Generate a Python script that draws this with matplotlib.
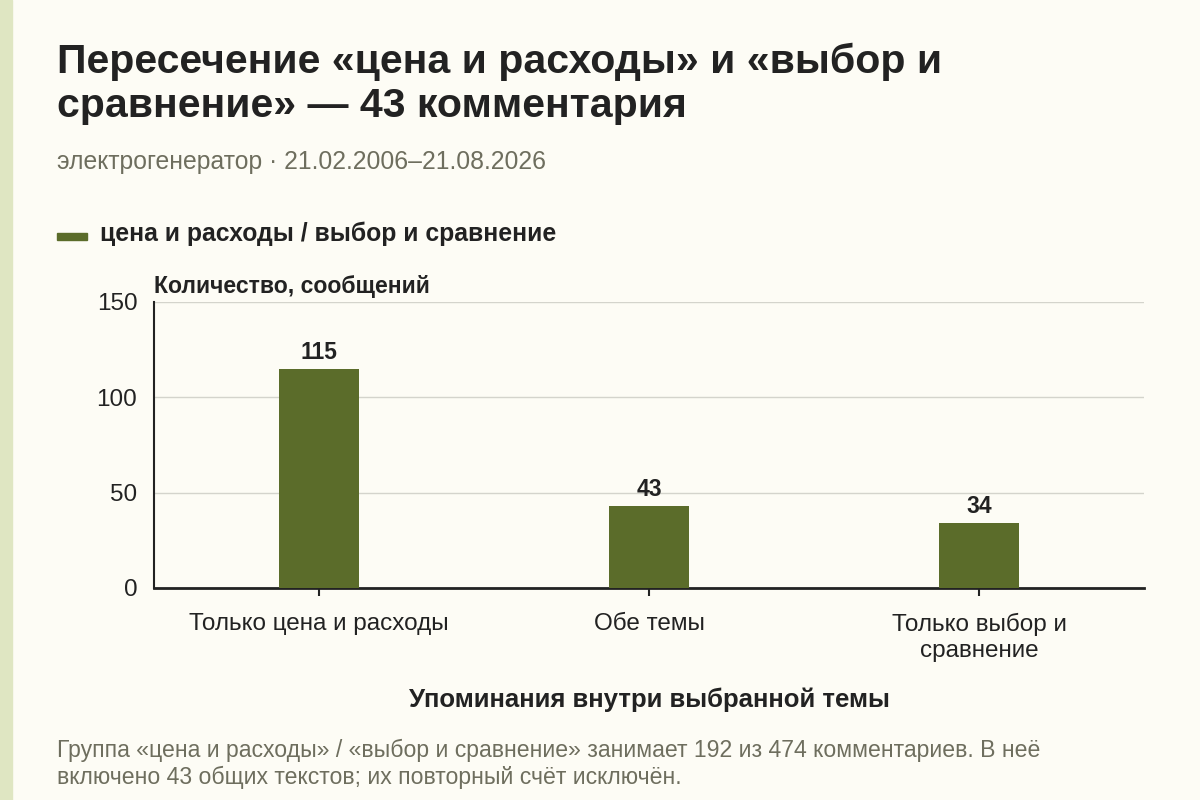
import matplotlib.pyplot as plt
from matplotlib.patches import Rectangle

plt.rcParams['font.family'] = ['Liberation Sans', 'DejaVu Sans']

# Данные
categories = ["Только цена и расходы", "Обе темы", "Только выбор и\nсравнение"]
values = [115, 43, 34]
yticks = [0, 50, 100, 150]

bg = "#fdfcf5"
bar_color = "#5b6c2a"
dark = "#222222"
gray = "#6e6e5e"

fig = plt.figure(figsize=(12, 8), dpi=100, facecolor=bg)
ax = fig.add_axes([0.1283, 0.265, 0.825, 0.3575], facecolor=bg)

# Полоса слева
fig.patches.append(Rectangle((0, 0), 12 / 1200, 1, transform=fig.transFigure,
                             color="#dfe6c2", zorder=0))

bars = ax.bar(range(len(values)), values, width=0.24, color=bar_color, zorder=3)
ax.bar_label(bars, padding=3.5, fontsize=16.5, fontweight='bold', color=dark)

ax.set_xlim(-0.5, 2.5)
ax.set_ylim(0, 150)
ax.set_yticks(yticks)
ax.set_xticks(range(len(categories)))
ax.set_xticklabels(categories, fontsize=17.5, color=dark, linespacing=1.2)
ax.tick_params(axis='y', length=0, labelsize=17.5, labelcolor=dark, pad=12)
ax.tick_params(axis='x', length=6, width=1.5, color=dark, pad=12)
ax.grid(axis='y', color="#d4d4cc", linewidth=1, zorder=0)
for s in ("top", "right"):
    ax.spines[s].set_visible(False)
ax.spines["left"].set_color(dark)
ax.spines["left"].set_linewidth(1.5)
ax.spines["bottom"].set_color(dark)
ax.spines["bottom"].set_linewidth(2)

ax.set_xlabel("Упоминания внутри выбранной темы", fontsize=18.5, fontweight='bold',
              color=dark, labelpad=19)

# Заголовки
fig.text(57 / 1200, 1 - 73 / 800, "Пересечение «цена и расходы» и «выбор и",
         fontsize=29.5, fontweight='bold', color=dark, va='baseline')
fig.text(57 / 1200, 1 - 117 / 800, "сравнение» — 43 комментария",
         fontsize=29.5, fontweight='bold', color=dark, va='baseline')
fig.text(57 / 1200, 1 - 169 / 800, "электрогенератор · 21.02.2006–21.08.2026",
         fontsize=17.8, color=gray, va='baseline')

# Легенда
fig.patches.append(Rectangle((57 / 1200, 1 - 240 / 800), 30 / 1200, 7 / 800,
                             transform=fig.transFigure, color=bar_color))
fig.text(100 / 1200, 1 - 241 / 800, "цена и расходы / выбор и сравнение",
         fontsize=17.8, fontweight='bold', color=dark, va='baseline')

fig.text(154 / 1200, 1 - 293 / 800, "Количество, сообщений",
         fontsize=16.6, fontweight='bold', color=dark, va='baseline')

# Примечание
fig.text(57 / 1200, 1 - 757 / 800,
         "Группа «цена и расходы» / «выбор и сравнение» занимает 192 из 474 комментариев. В неё",
         fontsize=16.6, color=gray, va='baseline')
fig.text(57 / 1200, 1 - 784 / 800,
         "включено 43 общих текстов; их повторный счёт исключён.",
         fontsize=16.6, color=gray, va='baseline')

fig.savefig("out.png", dpi=100, facecolor=bg)
